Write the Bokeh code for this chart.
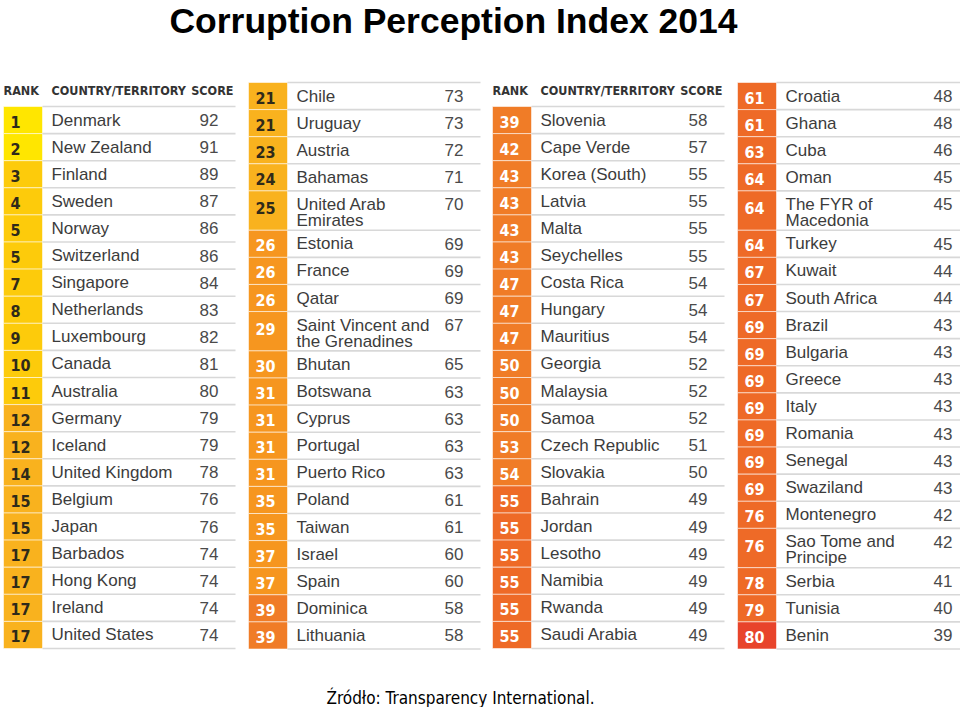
from bokeh.plotting import figure
from bokeh.models import Range1d
from bokeh.embed import file_html
from bokeh.resources import INLINE
from bokeh.core.properties import value

title_text = "Corruption Perception Index 2014"
source_text = "Źródło: Transparency International."
header_labels = ["RANK", "COUNTRY/TERRITORY", "SCORE"]

ranks_1 = [1, 2, 3, 4, 5, 5, 7, 8, 9, 10, 11, 12, 12, 14, 15, 15, 17, 17, 17, 17]
countries_1 = ["Denmark", "New Zealand", "Finland", "Sweden", "Norway", "Switzerland",
               "Singapore", "Netherlands", "Luxembourg", "Canada", "Australia", "Germany",
               "Iceland", "United Kingdom", "Belgium", "Japan", "Barbados", "Hong Kong",
               "Ireland", "United States"]
scores_1 = [92, 91, 89, 87, 86, 86, 84, 83, 82, 81, 80, 79, 79, 78, 76, 76, 74, 74, 74, 74]

ranks_2 = [21, 21, 23, 24, 25, 26, 26, 26, 29, 30, 31, 31, 31, 31, 35, 35, 37, 37, 39, 39]
countries_2 = ["Chile", "Uruguay", "Austria", "Bahamas", "United Arab\nEmirates", "Estonia",
               "France", "Qatar", "Saint Vincent and\nthe Grenadines", "Bhutan", "Botswana",
               "Cyprus", "Portugal", "Puerto Rico", "Poland", "Taiwan", "Israel", "Spain",
               "Dominica", "Lithuania"]
scores_2 = [73, 73, 72, 71, 70, 69, 69, 69, 67, 65, 63, 63, 63, 63, 61, 61, 60, 60, 58, 58]

ranks_3 = [39, 42, 43, 43, 43, 43, 47, 47, 47, 50, 50, 50, 53, 54, 55, 55, 55, 55, 55, 55]
countries_3 = ["Slovenia", "Cape Verde", "Korea (South)", "Latvia", "Malta", "Seychelles",
               "Costa Rica", "Hungary", "Mauritius", "Georgia", "Malaysia", "Samoa",
               "Czech Republic", "Slovakia", "Bahrain", "Jordan", "Lesotho", "Namibia",
               "Rwanda", "Saudi Arabia"]
scores_3 = [58, 57, 55, 55, 55, 55, 54, 54, 54, 52, 52, 52, 51, 50, 49, 49, 49, 49, 49, 49]

ranks_4 = [61, 61, 63, 64, 64, 64, 67, 67, 69, 69, 69, 69, 69, 69, 69, 76, 76, 78, 79, 80]
countries_4 = ["Croatia", "Ghana", "Cuba", "Oman", "The FYR of\nMacedonia", "Turkey", "Kuwait",
               "South Africa", "Brazil", "Bulgaria", "Greece", "Italy", "Romania", "Senegal",
               "Swaziland", "Montenegro", "Sao Tome and\nPrincipe", "Serbia", "Tunisia", "Benin"]
scores_4 = [48, 48, 46, 45, 45, 45, 44, 44, 43, 43, 43, 43, 43, 43, 43, 42, 42, 41, 40, 39]

band_colors = {9: "#FFE600", 8: "#FDCB0B", 7: "#F9B21E", 6: "#F6961F",
               5: "#F07C27", 4: "#EE6A27", 3: "#E8442B"}


def band_color(s):
    return band_colors[max(3, min(9, s // 10))]


panels = [
    (3, 106, True, ranks_1, countries_1, scores_1),
    (248, 82, False, ranks_2, countries_2, scores_2),
    (492, 106, True, ranks_3, countries_3, scores_3),
    (737, 82, False, ranks_4, countries_4, scores_4),
]
ROW_H = 27.1
TABLE_BOTTOM = 648.5

p = figure(width=960, height=707, x_range=Range1d(0, 960), y_range=Range1d(707, 0),
           output_backend="svg", toolbar_location=None, min_border=0,
           min_border_left=0, min_border_right=0, min_border_top=0, min_border_bottom=0)
p.xaxis.visible = False
p.yaxis.visible = False
p.xgrid.visible = False
p.ygrid.visible = False
p.outline_line_color = None
p.background_fill_color = "white"
p.border_fill_color = "white"

rect_x, rect_y, rect_h, rect_c = [], [], [], []
seg_x0, seg_x1, seg_y = [], [], []
rk_x, rk_y, rk_t, rk_c = [], [], [], []
ct_x, ct_y, ct_t = [], [], []
sc_x, sc_y, sc_t = [], [], []
hd_x, hd_y, hd_t, hd_a = [], [], [], []

for x0, top, has_header, ranks, countries, scores in panels:
    n_double = sum(1 for c in countries if "\n" in c)
    n_single = len(countries) - n_double
    dbl_h = (TABLE_BOTTOM - top - n_single * ROW_H) / n_double if n_double else ROW_H
    x_end = min(x0 + 232, 960)
    if has_header:
        hd_x += [x0, x0 + 48, x0 + 230]
        hd_y += [89.5, 89.5, 89.5]
        hd_t += header_labels
        hd_a += ["left", "left", "right"]
    y = top
    seg_x0.append(x0 + 39); seg_x1.append(x_end); seg_y.append(y)
    for r, c, s in zip(ranks, countries, scores):
        double = "\n" in c
        h = dbl_h if double else ROW_H
        cy = y + h / 2
        rect_x.append(x0 + 19.5); rect_y.append(cy); rect_h.append(h); rect_c.append(band_color(s))
        rk_x.append(x0 + 7); rk_y.append(cy - 2.5 if double else cy + 1.5); rk_t.append(str(r))
        rk_c.append("#2f2a1a" if s >= 70 else "#ffffff")
        if double:
            l1, l2 = c.split("\n")
            ct_x += [x0 + 48, x0 + 48]; ct_y += [y + 13.5, y + 29.5]; ct_t += [l1, l2]
            sc_x.append(x0 + 215); sc_y.append(y + 13.5); sc_t.append(str(s))
        else:
            ct_x.append(x0 + 48); ct_y.append(cy); ct_t.append(c)
            sc_x.append(x0 + 215); sc_y.append(cy); sc_t.append(str(s))
        y += h
        seg_x0.append(x0 + 39); seg_x1.append(x_end); seg_y.append(y)

p.rect(x=rect_x, y=rect_y, width=39, height=rect_h, fill_color=rect_c,
       line_color="white", line_alpha=0.55, line_width=1)
p.segment(x0=seg_x0, y0=seg_y, x1=seg_x1, y1=seg_y, line_color="#d8d8d8", line_width=1.6)

p.text(x=rk_x, y=rk_y, text=rk_t, text_color=rk_c, text_font=value("DejaVu Sans Condensed"),
       text_font_style="bold", text_font_size="16px", text_baseline="middle", text_align="left")
p.text(x=ct_x, y=ct_y, text=ct_t, text_color="#3c3c3c", text_font=value("Liberation Sans"),
       text_font_size="17px", text_baseline="middle", text_align="left")
p.text(x=sc_x, y=sc_y, text=sc_t, text_color="#4a4a4a", text_font=value("Liberation Sans"),
       text_font_size="17px", text_baseline="middle", text_align="right")
p.text(x=hd_x, y=hd_y, text=hd_t, text_align=hd_a, text_color="#333333",
       text_font=value("DejaVu Sans Condensed"), text_font_style="bold",
       text_font_size="12.5px", text_baseline="middle")

p.text(x=[453], y=[20], text=[title_text], text_font=value("Liberation Sans"),
       text_font_style="bold", text_font_size="35.5px", text_color="#000000",
       text_align="center", text_baseline="middle")
p.text(x=[460], y=[697], text=[source_text], text_font=value("DejaVu Sans Condensed"),
       text_font_size="17px", text_color="#000000", text_align="center", text_baseline="middle")

open("out.html", "w").write(file_html(p, INLINE))
